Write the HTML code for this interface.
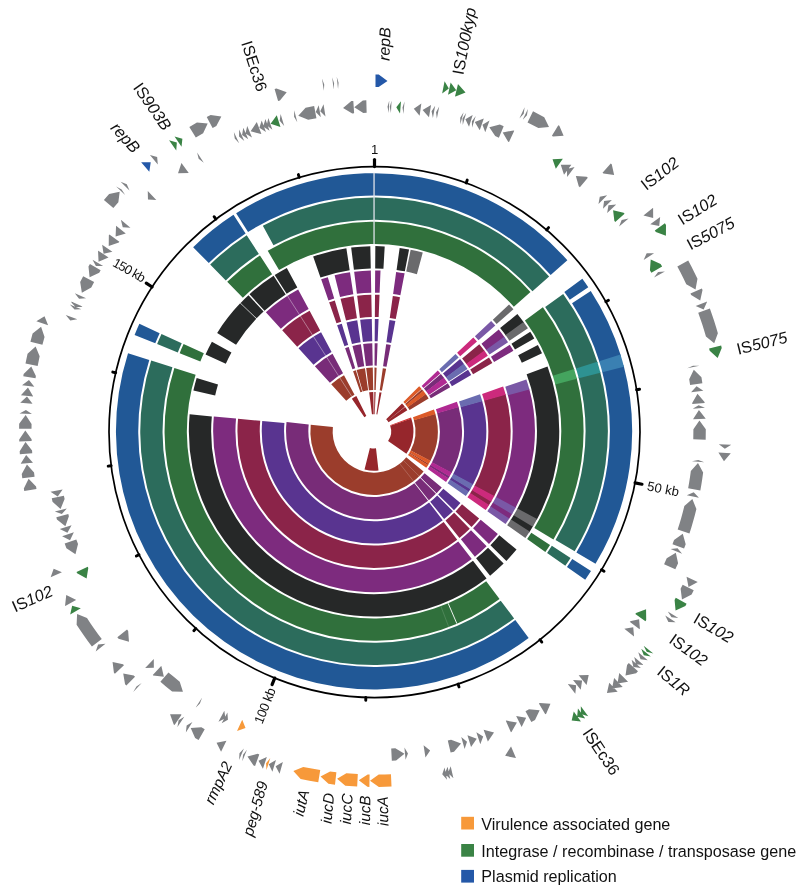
<!DOCTYPE html>
<html lang="en"><head><meta charset="utf-8"><title>Plasmid comparison map</title>
<style>html,body{margin:0;padding:0;background:#fff}svg{display:block}</style></head>
<body>
<svg width="801" height="894" viewBox="0 0 801 894">
<rect width="801" height="894" fill="#fff"/>
<g id="rings">
<path fill="#215896" d="M236.13 213.14A258.1 258.1 0 0 1 567.36 260.28L550.65 275.05A235.8 235.8 0 0 0 248.05 231.99ZM582.33 278.86A258.1 258.1 0 0 1 588.28 287.35L569.77 299.78A235.8 235.8 0 0 0 564.33 292.04ZM590.76 291.11A258.1 258.1 0 0 1 620.87 355.84L599.55 362.36A235.8 235.8 0 0 0 572.03 303.22ZM623.59 365.37A258.1 258.1 0 0 1 595.52 563.84L576.38 552.39A235.8 235.8 0 0 0 602.03 371.07ZM591 571.11A258.1 258.1 0 0 1 585.21 579.71L566.97 566.89A235.8 235.8 0 0 0 572.26 559.03ZM528.66 637.97A258.1 258.1 0 0 1 128.03 353.26L149.29 360A235.8 235.8 0 0 0 515.3 620.11ZM134.58 335.03A258.1 258.1 0 0 1 139.38 323.86L159.65 333.14A235.8 235.8 0 0 0 155.27 343.35ZM193.15 247.21A258.1 258.1 0 0 1 233.48 214.84L245.62 233.54A235.8 235.8 0 0 0 208.78 263.12Z"/>
<path fill="#3a80b2" d="M620.47 354.55A258.1 258.1 0 0 1 623.93 366.68L602.34 372.26A235.8 235.8 0 0 0 599.18 361.18Z"/>
<path fill="#2c6c5c" d="M262.85 225.64A233.8 233.8 0 0 1 549.16 276.38L532.45 291.16A211.5 211.5 0 0 0 273.46 245.25ZM563.2 293.88A233.8 233.8 0 0 1 597.63 362.94L576.31 369.46A211.5 211.5 0 0 0 545.16 306.98ZM600.09 371.58A233.8 233.8 0 0 1 574.67 551.37L555.53 539.91A211.5 211.5 0 0 0 578.53 377.27ZM570.57 557.95A233.8 233.8 0 0 1 565.33 565.74L547.09 552.91A211.5 211.5 0 0 0 551.83 545.87ZM514.1 618.51A233.8 233.8 0 0 1 151.19 360.61L172.45 367.35A211.5 211.5 0 0 0 500.74 600.65ZM157.12 344.1A233.8 233.8 0 0 1 161.47 333.97L181.75 343.26A211.5 211.5 0 0 0 177.81 352.41ZM210.18 264.54A233.8 233.8 0 0 1 246.71 235.22L258.86 253.92A211.5 211.5 0 0 0 225.81 280.45Z"/>
<path fill="#2e9292" d="M597.27 361.77A233.8 233.8 0 0 1 600.4 372.76L578.81 378.34A211.5 211.5 0 0 0 575.98 368.41Z"/>
<path fill="#30703c" d="M267.72 250.79A209.5 209.5 0 0 1 530.47 291.93L513.82 306.77A187.2 187.2 0 0 0 279.04 270ZM542.89 307.27A209.5 209.5 0 0 1 574.4 370.05L553.07 376.57A187.2 187.2 0 0 0 524.92 320.48ZM576.6 377.78A209.5 209.5 0 0 1 553.44 539.51L534.34 528A187.2 187.2 0 0 0 555.04 383.48ZM550.05 544.94A209.5 209.5 0 0 1 545.35 551.91L527.11 539.07A187.2 187.2 0 0 0 531.32 532.85ZM499.55 599.05A209.5 209.5 0 0 1 174.36 367.95L195.61 374.7A187.2 187.2 0 0 0 486.19 581.2ZM179.67 353.16A209.5 209.5 0 0 1 183.57 344.09L203.84 353.37A187.2 187.2 0 0 0 200.36 361.48ZM227.21 281.87A209.5 209.5 0 0 1 259.95 255.6L272.09 274.3A187.2 187.2 0 0 0 242.84 297.78Z"/>
<path fill="#44a45e" d="M574.07 369A209.5 209.5 0 0 1 576.88 378.85L555.29 384.43A187.2 187.2 0 0 0 552.78 375.63Z"/>
<path fill="#262828" d="M375.34 246.1A185.2 185.2 0 0 1 384.71 246.41L383.43 268.67A162.9 162.9 0 0 0 375.19 268.4ZM399.66 247.88A185.2 185.2 0 0 1 409.07 249.44L404.85 271.34A162.9 162.9 0 0 0 396.58 269.97ZM517.37 314A185.2 185.2 0 0 1 524.07 322.7L506.01 335.78A162.9 162.9 0 0 0 500.11 328.12ZM530.25 331.79A185.2 185.2 0 0 1 534.28 338.42L514.98 349.6A162.9 162.9 0 0 0 511.44 343.77ZM537.87 344.93A185.2 185.2 0 0 1 542.03 353.32L521.81 362.71A162.9 162.9 0 0 0 518.15 355.33ZM547.52 366.44A185.2 185.2 0 0 1 536.65 519.95L517.07 509.28A162.9 162.9 0 0 0 526.63 374.25ZM533.29 525.85A185.2 185.2 0 0 1 529.2 532.44L510.51 520.26A162.9 162.9 0 0 0 514.12 514.47ZM516.54 549.6A185.2 185.2 0 0 1 506.37 560.88L490.44 545.28A162.9 162.9 0 0 0 499.39 535.36ZM503.63 563.62A185.2 185.2 0 0 1 490.1 575.63L476.12 558.25A162.9 162.9 0 0 0 488.03 547.69ZM486.54 578.43A185.2 185.2 0 0 1 189.63 414.35L211.83 416.39A162.9 162.9 0 0 0 472.99 560.71ZM193.38 390.58A185.2 185.2 0 0 1 196.66 378.08L218.02 384.49A162.9 162.9 0 0 0 215.14 395.49ZM205.53 354.5A185.2 185.2 0 0 1 211.91 341.8L231.44 352.57A162.9 162.9 0 0 0 225.82 363.75ZM217.16 332.88A185.2 185.2 0 0 1 240.16 303.35L256.28 318.76A162.9 162.9 0 0 0 236.05 344.74ZM240.6 302.88A185.2 185.2 0 0 1 248.45 295.19L263.58 311.58A162.9 162.9 0 0 0 256.67 318.34ZM249.53 294.21A185.2 185.2 0 0 1 273.59 275.71L285.69 294.45A162.9 162.9 0 0 0 264.52 310.72ZM274.68 275.02A185.2 185.2 0 0 1 286.82 267.93L297.32 287.6A162.9 162.9 0 0 0 286.64 293.84ZM313.14 256.4A185.2 185.2 0 0 1 346.36 248.18L349.69 270.23A162.9 162.9 0 0 0 320.48 277.46ZM351.16 247.52A185.2 185.2 0 0 1 370.33 246.14L370.78 268.43A162.9 162.9 0 0 0 353.92 269.65Z"/>
<path fill="#6a6a6c" d="M410.66 249.75A185.2 185.2 0 0 1 422.76 252.62L416.9 274.14A162.9 162.9 0 0 0 406.25 271.61ZM509.05 304.52A185.2 185.2 0 0 1 513.4 309.31L496.62 324A162.9 162.9 0 0 0 492.8 319.79ZM523.5 321.92A185.2 185.2 0 0 1 527.95 328.27L509.42 340.68A162.9 162.9 0 0 0 505.5 335.09ZM537.11 519.1A185.2 185.2 0 0 1 532.8 526.69L513.68 515.2A162.9 162.9 0 0 0 517.48 508.53ZM529.72 531.62A185.2 185.2 0 0 1 525.39 538.06L507.16 525.2A162.9 162.9 0 0 0 510.98 519.54Z"/>
<path fill="#7d2b7e" d="M375.17 270.4A160.9 160.9 0 0 1 380.51 270.53L379.61 292.81A138.6 138.6 0 0 0 375.02 292.7ZM396.16 271.93A160.9 160.9 0 0 1 404.61 273.33L400.38 295.22A138.6 138.6 0 0 0 393.1 294.02ZM498.74 329.61A160.9 160.9 0 0 1 504.71 337.41L486.6 350.42A138.6 138.6 0 0 0 481.46 343.7ZM509.75 344.85A160.9 160.9 0 0 1 513.39 350.85L494.08 362A138.6 138.6 0 0 0 490.94 356.83ZM529.17 388.57A160.9 160.9 0 0 1 515.32 508.32L495.74 497.65A138.6 138.6 0 0 0 507.67 394.49ZM512.4 513.45A160.9 160.9 0 0 1 508.84 519.17L490.16 506.99A138.6 138.6 0 0 0 493.23 502.06ZM497.85 534.08A160.9 160.9 0 0 1 489.01 543.88L473.08 528.27A138.6 138.6 0 0 0 480.69 519.83ZM486.63 546.26A160.9 160.9 0 0 1 474.87 556.7L460.9 539.32A138.6 138.6 0 0 0 471.02 530.33ZM471.78 559.12A160.9 160.9 0 0 1 213.82 416.58L236.03 418.62A138.6 138.6 0 0 0 458.23 541.41ZM265.87 312.2A160.9 160.9 0 0 1 298.14 289.43L308.66 309.09A138.6 138.6 0 0 0 280.86 328.71ZM321.14 279.35A160.9 160.9 0 0 1 327.81 277.19L334.22 298.55A138.6 138.6 0 0 0 328.47 300.41ZM334.58 275.32A160.9 160.9 0 0 1 349.99 272.21L353.32 294.26A138.6 138.6 0 0 0 340.05 296.93ZM354.16 271.63A160.9 160.9 0 0 1 370.82 270.43L371.27 292.73A138.6 138.6 0 0 0 356.92 293.76Z"/>
<path fill="#7a58a6" d="M491.15 320.95A160.9 160.9 0 0 1 495.3 325.53L478.49 340.19A138.6 138.6 0 0 0 474.92 336.25ZM504.22 336.73A160.9 160.9 0 0 1 508.07 342.26L489.49 354.6A138.6 138.6 0 0 0 486.18 349.83ZM526.37 379.45A160.9 160.9 0 0 1 529.39 389.38L507.86 395.19A138.6 138.6 0 0 0 505.26 386.63ZM515.72 507.58A160.9 160.9 0 0 1 511.97 514.17L492.85 502.68A138.6 138.6 0 0 0 496.08 497.01ZM509.3 518.46A160.9 160.9 0 0 1 505.53 524.05L487.31 511.19A138.6 138.6 0 0 0 490.55 506.38Z"/>
<path fill="#8b2449" d="M375 294.7A136.6 136.6 0 0 1 379.53 294.81L378.64 317.09A114.3 114.3 0 0 0 374.85 317ZM392.82 296A136.6 136.6 0 0 1 400 297.19L395.76 319.08A114.3 114.3 0 0 0 389.76 318.08ZM479.3 344.23A136.6 136.6 0 0 1 484.7 351.2L466.64 364.28A114.3 114.3 0 0 0 462.12 358.44ZM489 357.5A136.6 136.6 0 0 1 492.35 363L473.04 374.15A114.3 114.3 0 0 0 470.23 369.55ZM505.49 394.11A136.6 136.6 0 0 1 493.98 496.69L474.4 486.01A114.3 114.3 0 0 0 484.03 400.18ZM491.51 501.04A136.6 136.6 0 0 1 488.74 505.5L470.02 493.38A114.3 114.3 0 0 0 472.33 489.66ZM479.15 518.56A136.6 136.6 0 0 1 471.48 527.04L455.57 511.41A114.3 114.3 0 0 0 461.99 504.31ZM469.79 528.73A136.6 136.6 0 0 1 459.46 537.91L445.52 520.5A114.3 114.3 0 0 0 454.16 512.82ZM457.21 539.67A136.6 136.6 0 0 1 238.02 418.8L260.23 420.84A114.3 114.3 0 0 0 443.63 521.98ZM282.2 330.19A136.6 136.6 0 0 1 309.6 310.86L320.13 330.52A114.3 114.3 0 0 0 297.2 346.69ZM329.13 302.3A136.6 136.6 0 0 1 334.8 300.46L341.2 321.82A114.3 114.3 0 0 0 336.46 323.36ZM340.54 298.87A136.6 136.6 0 0 1 353.62 296.24L356.96 318.29A114.3 114.3 0 0 0 346.01 320.49ZM357.17 295.75A136.6 136.6 0 0 1 371.31 294.73L371.76 317.02A114.3 114.3 0 0 0 359.92 317.88Z"/>
<path fill="#cc2a7c" d="M473.3 337.44A136.6 136.6 0 0 1 476.99 341.5L460.18 356.16A114.3 114.3 0 0 0 457.1 352.77ZM484.28 350.62A136.6 136.6 0 0 1 487.83 355.71L469.25 368.05A114.3 114.3 0 0 0 466.29 363.79ZM503.13 386.6A136.6 136.6 0 0 1 505.68 394.8L484.19 400.75A114.3 114.3 0 0 0 482.06 393.9ZM494.32 496.06A136.6 136.6 0 0 1 491.14 501.65L472.02 490.17A114.3 114.3 0 0 0 474.69 485.49ZM489.13 504.9A136.6 136.6 0 0 1 485.67 510.04L467.45 497.19A114.3 114.3 0 0 0 470.34 492.88Z"/>
<path fill="#593490" d="M374.83 319A112.3 112.3 0 0 1 378.56 319.09L377.66 341.37A90 90 0 0 0 374.68 341.3ZM389.49 320.07A112.3 112.3 0 0 1 395.38 321.04L391.15 342.94A90 90 0 0 0 386.42 342.15ZM460.08 359.11A112.3 112.3 0 0 1 464.09 364.19L446.21 377.51A90 90 0 0 0 442.99 373.45ZM468.02 369.81A112.3 112.3 0 0 1 471.21 374.98L451.91 386.16A90 90 0 0 0 449.36 382.02ZM482.11 400.72A112.3 112.3 0 0 1 472.74 484.88L453.14 474.24A90 90 0 0 0 460.65 406.79ZM470.61 488.63A112.3 112.3 0 0 1 468.55 491.97L449.79 479.92A90 90 0 0 0 451.44 477.25ZM460.45 503.03A112.3 112.3 0 0 1 454.01 510.15L438.13 494.49A90 90 0 0 0 443.3 488.79ZM452.9 511.26A112.3 112.3 0 0 1 444.11 519.06L430.2 501.64A90 90 0 0 0 437.24 495.38ZM442.72 520.15A112.3 112.3 0 0 1 262.22 421.02L284.43 423.06A90 90 0 0 0 429.09 502.51ZM298.54 348.17A112.3 112.3 0 0 1 321.07 332.28L331.59 351.95A90 90 0 0 0 313.54 364.68ZM337.12 325.25A112.3 112.3 0 0 1 341.78 323.74L348.19 345.1A90 90 0 0 0 344.45 346.31ZM346.5 322.43A112.3 112.3 0 0 1 357.26 320.26L360.59 342.31A90 90 0 0 0 351.97 344.05ZM360.17 319.86A112.3 112.3 0 0 1 371.8 319.02L372.24 341.32A90 90 0 0 0 362.93 341.99Z"/>
<path fill="#6a6cb0" d="M455.51 354A112.3 112.3 0 0 1 458.68 357.48L441.87 372.14A90 90 0 0 0 439.33 369.35ZM463.74 363.72A112.3 112.3 0 0 1 467.48 368.99L448.93 381.36A90 90 0 0 0 445.93 377.14ZM480.04 394.18A112.3 112.3 0 0 1 482.27 401.29L460.78 407.25A90 90 0 0 0 458.99 401.55ZM473.02 484.37A112.3 112.3 0 0 1 470.31 489.14L451.2 477.65A90 90 0 0 0 453.37 473.83ZM468.87 491.47A112.3 112.3 0 0 1 465.82 496.03L447.59 483.18A90 90 0 0 0 450.04 479.52Z"/>
<path fill="#782c78" d="M374.66 343.3A88 88 0 0 1 377.58 343.37L376.69 365.65A65.7 65.7 0 0 0 374.51 365.6ZM386.15 344.14A88 88 0 0 1 390.77 344.9L386.53 366.8A65.7 65.7 0 0 0 383.08 366.22ZM440.87 374.03A88 88 0 0 1 444.14 378.1L426.38 391.58A65.7 65.7 0 0 0 423.93 388.54ZM447.77 383.24A88 88 0 0 1 450.18 387.17L430.89 398.35A65.7 65.7 0 0 0 429.09 395.42ZM458.56 406.75A88 88 0 0 1 451.53 473.02L431.9 462.45A65.7 65.7 0 0 0 437.14 412.97ZM449.72 476.23A88 88 0 0 1 448.27 478.58L429.46 466.6A65.7 65.7 0 0 0 430.54 464.84ZM441.76 487.51A88 88 0 0 1 436.6 493.2L420.75 477.51A65.7 65.7 0 0 0 424.6 473.27ZM435.95 493.85A88 88 0 0 1 428.83 500.17L414.95 482.72A65.7 65.7 0 0 0 420.26 478ZM428.11 500.74A88 88 0 0 1 286.53 422.1L308.71 424.43A65.7 65.7 0 0 0 414.41 483.14ZM314.88 366.16A88 88 0 0 1 332.53 353.71L343.05 373.37A65.7 65.7 0 0 0 329.88 382.67ZM345.11 348.19A88 88 0 0 1 348.76 347.01L355.17 368.37A65.7 65.7 0 0 0 352.44 369.25ZM352.46 345.99A88 88 0 0 1 360.89 344.29L364.23 366.34A65.7 65.7 0 0 0 357.93 367.61ZM363.17 343.97A88 88 0 0 1 372.28 343.32L372.73 365.61A65.7 65.7 0 0 0 365.93 366.1Z"/>
<path fill="#b02a92" d="M437.78 370.61A88 88 0 0 1 440.36 373.45L423.56 388.11A65.7 65.7 0 0 0 421.63 385.99ZM443.87 377.73A88 88 0 0 1 447.35 382.6L428.77 394.94A65.7 65.7 0 0 0 426.17 391.3ZM456.9 401.64A88 88 0 0 1 458.68 407.19L437.24 413.3A65.7 65.7 0 0 0 435.9 409.15ZM451.75 472.61A88 88 0 0 1 449.48 476.62L430.37 465.14A65.7 65.7 0 0 0 432.06 462.14ZM448.51 478.19A88 88 0 0 1 446.05 481.9L427.8 469.08A65.7 65.7 0 0 0 429.64 466.31Z"/>
<path fill="#9b3d2c" d="M374.49 367.6A63.7 63.7 0 0 1 376.61 367.65L375.71 389.93A41.4 41.4 0 0 0 374.34 389.9ZM382.81 368.2A63.7 63.7 0 0 1 386.15 368.76L381.91 390.65A41.4 41.4 0 0 0 379.74 390.29ZM421.91 389.26A63.7 63.7 0 0 1 423.41 391.04L406.13 405.13A41.4 41.4 0 0 0 405.15 403.98ZM425.71 394.04A63.7 63.7 0 0 1 428.65 398.49L409.54 409.98A41.4 41.4 0 0 0 407.63 407.08ZM435.31 413.85A63.7 63.7 0 0 1 430.4 461.01L410.67 450.61A41.4 41.4 0 0 0 413.87 419.96ZM428.82 463.82A63.7 63.7 0 0 1 427.95 465.24L409.08 453.36A41.4 41.4 0 0 0 409.65 452.44ZM423.55 471.39A63.7 63.7 0 0 1 419.13 476.3L403.35 460.55A41.4 41.4 0 0 0 406.22 457.35ZM419.13 476.3A63.7 63.7 0 0 1 413.44 481.36L399.65 463.83A41.4 41.4 0 0 0 403.35 460.55ZM413.44 481.36A63.7 63.7 0 0 1 310.7 424.64L332.88 426.97A41.4 41.4 0 0 0 399.65 463.83ZM331.22 384.15A63.7 63.7 0 0 1 344 375.13L354.52 394.8A41.4 41.4 0 0 0 346.21 400.65ZM366.18 368.09A63.7 63.7 0 0 1 372.77 367.61L373.22 389.91A41.4 41.4 0 0 0 368.93 390.22ZM353.1 371.14A63.7 63.7 0 0 1 355.85 370.25L362.22 391.63A41.4 41.4 0 0 0 360.43 392.2ZM356.6 370.04A63.7 63.7 0 0 1 364.96 368.25L368.15 390.32A41.4 41.4 0 0 0 362.71 391.48Z"/>
<path fill="#dc5a28" d="M419.17 386.34A63.7 63.7 0 0 1 421.61 388.92L404.96 403.76A41.4 41.4 0 0 0 403.38 402.08ZM423.2 390.78A63.7 63.7 0 0 1 425.91 394.31L407.75 407.26A41.4 41.4 0 0 0 406 404.97ZM433.95 409.62A63.7 63.7 0 0 1 435.4 414.17L413.92 420.17A41.4 41.4 0 0 0 412.98 417.21ZM430.55 460.71A63.7 63.7 0 0 1 428.65 464.11L409.54 452.62A41.4 41.4 0 0 0 410.77 450.42ZM428.13 464.96A63.7 63.7 0 0 1 426.23 467.84L407.96 455.05A41.4 41.4 0 0 0 409.2 453.18Z"/>
<path fill="#96262c" d="M369.18 392.2A39.4 39.4 0 0 1 373.26 391.91L373.71 414.2A17.1 17.1 0 0 0 371.94 414.33ZM374.33 391.9A39.4 39.4 0 0 1 375.63 391.93L374.74 414.21A17.1 17.1 0 0 0 374.17 414.2ZM379.47 392.27A39.4 39.4 0 0 1 381.53 392.62L377.3 414.51A17.1 17.1 0 0 0 376.4 414.36ZM402.01 403.54A39.4 39.4 0 0 1 404.84 406.72L387.41 420.63A17.1 17.1 0 0 0 386.18 419.25ZM405.1 407.04A39.4 39.4 0 0 1 407.32 410.19L388.49 422.14A17.1 17.1 0 0 0 387.52 420.77ZM411.3 418.47A39.4 39.4 0 0 1 406.4 453.79L388.09 441.06A17.1 17.1 0 0 0 390.22 425.73ZM378.51 470.45A39.4 39.4 0 0 1 364.52 469.53L369.91 447.89A17.1 17.1 0 0 0 375.99 448.29ZM351.85 398.75A39.4 39.4 0 0 1 356.35 396.1L366.37 416.02A17.1 17.1 0 0 0 364.41 417.17Z"/>
<path fill="#d23030" d="M410.98 417.57A39.4 39.4 0 0 1 411.37 418.67L390.25 425.82A17.1 17.1 0 0 0 390.08 425.34Z"/>
</g>
<g id="lines">
<line x1="374.05" y1="172.7" x2="374.05" y2="244" stroke="#dfe3ea" stroke-width="1.3"/>
<line x1="456.92" y1="623.71" x2="448.1" y2="603.23" stroke="#ffffff" stroke-width="0.9"/>
<line x1="448.79" y1="627.02" x2="440.83" y2="606.18" stroke="#6a9a72" stroke-width="0.5"/>
<line x1="287.36" y1="295.75" x2="351.74" y2="396.42" stroke="#e9dfe9" stroke-width="0.45"/>
<line x1="419.25" y1="476.19" x2="403.43" y2="460.47" stroke="#c99a90" stroke-width="0.4"/>
<line x1="413.62" y1="481.22" x2="399.77" y2="463.74" stroke="#c99a90" stroke-width="0.4"/>
</g>
<circle cx="374.5" cy="432.05" r="265.5" fill="none" stroke="#000" stroke-width="1.7"/>
<g stroke="#000" stroke-linecap="round">
<line x1="374.5" y1="166.55" x2="374.5" y2="159.55" stroke-width="3.2"/>
<line x1="466.21" y1="182.89" x2="467.25" y2="180.08" stroke-width="2.9"/>
<line x1="546.63" y1="229.91" x2="548.58" y2="227.62" stroke-width="2.9"/>
<line x1="605.86" y1="301.81" x2="608.47" y2="300.34" stroke-width="2.9"/>
<line x1="636.61" y1="389.74" x2="639.57" y2="389.26" stroke-width="2.9"/>
<line x1="635.09" y1="482.88" x2="641.96" y2="484.22" stroke-width="3.2"/>
<line x1="601.49" y1="569.77" x2="604.05" y2="571.33" stroke-width="2.9"/>
<line x1="539.95" y1="639.7" x2="541.81" y2="642.05" stroke-width="2.9"/>
<line x1="458.03" y1="684.07" x2="458.98" y2="686.91" stroke-width="2.9"/>
<line x1="365.84" y1="697.41" x2="365.74" y2="700.41" stroke-width="2.9"/>
<line x1="274.71" y1="678.08" x2="272.08" y2="684.57" stroke-width="3.2"/>
<line x1="195.87" y1="628.47" x2="193.85" y2="630.69" stroke-width="2.9"/>
<line x1="139.02" y1="554.68" x2="136.35" y2="556.06" stroke-width="2.9"/>
<line x1="111.15" y1="465.79" x2="108.18" y2="466.17" stroke-width="2.9"/>
<line x1="115.71" y1="372.74" x2="112.78" y2="372.07" stroke-width="2.9"/>
<line x1="152.12" y1="287" x2="146.26" y2="283.18" stroke-width="3.2"/>
<line x1="215.92" y1="219.11" x2="214.12" y2="216.71" stroke-width="2.9"/>
<line x1="299.23" y1="177.44" x2="298.38" y2="174.57" stroke-width="2.9"/>
</g>
<g id="genes">
<path fill="#808285" d="M189.33 126.95L196.92 122.43L207.7 123.49L203.13 133.17L195.81 137.53ZM206.73 116.96L210.62 114.9L221.34 116.43L216.35 125.9L212.6 127.88ZM181.48 163.05L181.44 163.08L178.02 173.36L188.71 173.12L188.75 173.09ZM197.11 152.4L198.67 158.77L203.8 162.84ZM233.85 132.05L234.75 138.49L239.15 143.26ZM239.16 129.59L239.04 136.47L244.27 140.89ZM243.29 127.76L242.08 135.08L248.25 139.13ZM247.2 126.09L245.5 133.56L252.01 137.52ZM256.88 122.19L256.59 122.31L250.64 131.37L261.04 133.88L261.32 133.77ZM261.7 120.39L259.4 127.87L265.96 132.03ZM265.42 119.05L263.23 126.43L269.54 130.74ZM268.34 118.04L266.74 125.16L272.35 129.77ZM280.63 114.1L279.69 120.86L284.18 125.98ZM294.24 110.34L294.08 116.79L297.29 122.36ZM314.15 105.96L305.57 107.69L298.3 115.72L308.18 119.81L316.45 118.14ZM318.71 105.13L315.75 111.96L320.83 117.35ZM323.55 104.33L320.25 111.16L325.49 116.57ZM274.58 89.09L276.51 88.52L286.71 92.15L279.94 100.44L278.08 100.98ZM321.97 78.56L324.22 84.5L323.83 90.83ZM332.15 77.17L334.1 83.18L333.65 89.48ZM336.7 76.65L338.57 82.68L338.04 88.98ZM353.32 100.98L351.37 101.12L343.06 108.06L352.27 113.48L354.14 113.35ZM366.32 100.37L362.81 100.49L354.26 107.13L363.28 112.88L366.66 112.77ZM389.27 100.55L387.51 106.68L388.75 112.93ZM391.56 100.65L389.76 106.77L390.95 113.04ZM404.55 101.55L402.51 107.59L403.45 113.9ZM421.35 103.47L413.81 108.74L419.62 115.75ZM431.07 104.99L422.59 109.92L428.98 117.21ZM435.16 105.72L431.57 111.37L432.91 117.91ZM439.23 106.49L436.06 112.19L436.84 118.66ZM463.62 112.27L460.2 117.76L460.3 124.22ZM466.18 112.99L462.49 118.39L462.77 124.91ZM472.68 114.92L465.37 119.21L469.03 126.77ZM475.77 115.89L471.91 121.18L472 127.7ZM483.82 118.57L474.79 122.09L479.75 130.29ZM489.53 120.62L482.47 124.67L485.25 132.26ZM503.69 126.21L499.85 124.62L489.32 127.15L495.18 136.1L498.87 137.63ZM514.24 130.87L513.34 130.46L502.7 132.52L508.16 141.72L509.03 142.12ZM524.61 107.35L523.73 113.78L519.41 118.61ZM527.9 108.89L526.96 115.31L522.58 120.1ZM533.03 111.37L538.66 114.22L544.24 117.16L548.99 126.89L538.36 128.08L532.97 125.24L527.53 122.49ZM558.3 125.15L559.33 125.77L563.61 135.72L552.93 136.39L551.93 135.79ZM610.73 163.45L611.74 164.34L614.13 174.9L603.51 173.61L602.53 172.75ZM653.1 207.81L653.17 217.94L643.43 215.57ZM660.15 216.88L659.21 226.07L650.23 224.33ZM654.09 253.26L646.69 253.22L643.63 259.92ZM571.36 164.69L560.75 164.71L564.01 174.67ZM574.62 167.12L566.92 169.11L567.14 177.01ZM587.85 177.66L586.67 176.67L575.86 175.91L578.74 186.21L579.88 187.16ZM607.18 195.25L599.78 196.7L598.48 204.09ZM611.88 199.97L604.09 200.91L603 208.63ZM616.22 204.5L608.43 205.32L607.18 212.99ZM628.59 218.44L621.68 219.88L619.09 226.41ZM688.21 260.55L691.42 266.59L694.51 272.68L697.48 278.84L695.53 289.49L686.27 284.13L683.4 278.19L680.41 272.3L677.32 266.48ZM701.83 288.43L702.53 290.04L700.21 300.62L691.14 294.94L690.46 293.38ZM707.21 301.47L703.64 309.54L695.66 305.97ZM709.88 308.54L712.04 314.63L714.09 320.77L716.04 326.94L717.87 333.14L714.21 343.33L705.94 336.54L704.17 330.55L702.3 324.59L700.32 318.67L698.23 312.79ZM664.92 271.52L658.07 271.96L654.05 277.5ZM699.37 365.87L693 365.65L687.21 368.31ZM702.38 383.32L701.45 377.3L693.79 369.64L689.21 379.3L690.11 385.1ZM703.37 390.72L696.53 386.21L691.06 392.22ZM704.63 402.98L704.55 402.02L697.49 393.81L692.2 403.1L692.28 404.02ZM705 407.83L698.6 405.26L692.63 408.69ZM705.58 418.78L705.58 418.6L698.94 410.04L693.18 419.05L693.19 419.23ZM705.68 439.67L705.8 429.29L699.44 420.52L693.4 429.34L693.28 439.33ZM704.29 462.35L698.28 460.03L691.94 461.17ZM700.34 490.57L701.38 484.59L702.32 478.59L703.14 472.58L697.99 463.05L690.84 471.01L690.05 476.8L689.15 482.57L688.15 488.33ZM698.94 497.73L693.72 492.24L686.8 495.22ZM689.44 533.44L691.36 527.39L693.15 521.3L694.83 515.18L696.4 509.03L692.34 498.98L684.35 506.09L682.84 512.01L681.23 517.91L679.5 523.76L677.65 529.59ZM731.23 444.73L724.84 448.74L718.83 444.25ZM730.78 453.37L723.97 461.2L718.41 452.58ZM684.07 548.62L685.69 544.28L682.78 533.84L674.04 540.02L672.48 544.2ZM682.08 553.69L677.56 548.27L670.57 549.07ZM675.33 569.35L678.09 563.23L675.83 552.63L666.73 558.26L664.08 564.15ZM697.75 582.08L688.54 586.89L686.53 576.82ZM693.73 590.37L691.62 594.52L681.97 599.43L680.61 588.82L682.65 584.82ZM678.33 617.97L671.51 617.19L667.78 611.45ZM675.71 622.14L668.39 622.05L665.26 615.48ZM639.9 628.79L639.11 619.36L629.97 621.36ZM639.58 629.22L637.44 621.68L629.66 621.77ZM634.04 636.38L633.25 627.31L624.33 628.67ZM647.75 660.21L640.5 659.15L638.26 652.22ZM643.58 665.06L636.05 664.22L634.24 656.91ZM640.89 668.12L633.43 667.12L631.64 659.85ZM637.97 671.34L636.11 673.35L625.5 675.5L627.03 664.91L628.82 662.97ZM628.04 681.75L617.51 683.4L619.24 673.02ZM622.71 687L612.05 688.53L614.1 678.08ZM617.67 691.77L606.95 693.12L609.24 682.69ZM586.57 684.9L588.7 674.94L578.65 675.37ZM580.73 689.65L582.12 680.55L573.02 679.93ZM575.32 693.85L576.17 685.35L567.81 683.98ZM545.27 714.2L546.19 713.64L550.46 703.68L539.78 703.03L538.89 703.56ZM531.34 722.09L535.01 720.1L539.66 710.32L529.02 709.24L525.49 711.16ZM521.64 727.09L526.16 717.83L516.15 715.97ZM510.9 732.15L511.48 731.89L516.9 722.51L506.37 720.59L505.82 720.84ZM487.83 741.5L487.9 741.48L494.02 732.54L483.67 729.82L483.61 729.84ZM480.3 744.13L483.19 736.58L476.36 732.37ZM471.04 747.08L476.76 738.77L467.45 735.21ZM464.6 748.96L467.02 741.81L461.25 737.02ZM450.61 752.56L454.01 751.74L461.05 743.51L451.05 739.7L447.78 740.48ZM425.45 757.42L430.15 750.38L423.57 745.17ZM515.97 758L515.69 758.12L505.11 755.79L510.8 746.72L511.07 746.6ZM453.41 778.28L448.02 773.11L450.69 766.18ZM450.25 778.98L444.66 773.81L447.64 766.85ZM447.07 779.64L442.25 774.29L444.57 767.5ZM279.58 773.85L275.64 766.26L282.91 761.9ZM272.41 771.77L268.78 764.15L275.99 759.9ZM262.92 768.76L258.51 760.69L266.83 756.99ZM255.08 766.05L253.58 765.51L247.47 756.57L257.82 753.86L259.27 754.38ZM242.31 761.19L243.07 754.81L246.94 749.69ZM239.15 759.9L239.45 753.31L243.89 748.44ZM391.83 760.84L396.09 760.6L404.48 753.73L395.31 748.22L391.21 748.45ZM405.56 759.86L407.96 753.4L404.43 747.51ZM117.35 637.37L118.53 638.84L128.98 641.69L128.17 631.03L127.03 629.62ZM145.17 667.96L153.85 667.66L153.8 659.06ZM152.79 675.12L153.11 675.41L163.87 676.65L161.44 666.23L161.14 665.96ZM160.37 681.82L166.19 686.68L172.11 691.41L182.94 691.84L179.73 681.63L174.03 677.08L168.44 672.4ZM195.37 707.98L199.91 703.53L202.12 697.58ZM218.43 721.65L225.38 718.32L224.32 710.74ZM221.66 723.37L227.94 719.64L227.42 712.39ZM91.92 646.56L87.94 641.23L84.06 635.83L80.28 630.35L76.6 624.81L77.1 613.99L87 618.06L90.55 623.41L94.2 628.69L97.94 633.9L101.78 639.05ZM95.72 651.47L98.1 644.43L105.46 643.78ZM114.9 673.79L113.92 672.74L112.57 662L123.02 664.32L123.96 665.33ZM126.35 685.51L125.05 684.23L123.22 673.56L133.76 675.41L135.02 676.64ZM133.26 692.08L136.44 686.57L141.68 682.98ZM174.58 725.01L173.73 724.43L170.05 714.25L180.75 714.21L181.57 714.77ZM177.45 726.95L178.59 720.24L184.33 716.64ZM185.86 732.4L186.65 725.55L192.46 721.9ZM198.59 740.03L195.1 738.01L190.71 728.11L201.38 727.31L204.74 729.26ZM221.07 751.83L216.54 742.67L226.44 740.65ZM19.87 454.15L19.68 451.13L25.48 441.98L32.06 450.42L32.24 453.34ZM20.64 463.84L26.14 455.01L32.99 462.69ZM22.29 478.34L21.74 474.06L26.94 464.55L34.05 472.55L34.58 476.68ZM24.25 491.07L23.83 488.58L28.62 478.87L36.06 486.57L36.47 488.97ZM50.47 491.73L57.73 496.46L62.66 489.44ZM51.78 498.3L52.5 501.68L60.56 508.92L64.61 499.02L63.91 495.77ZM54.8 511.43L61.85 513.92L66.82 508.41ZM56.33 517.29L56.94 519.51L65.39 526.28L68.88 516.18L68.3 514.04ZM59.73 528.95L67.44 532.69L71.57 525.27ZM62.09 536.24L70.02 540.17L73.84 532.28ZM64.67 543.62L66.42 548.34L75.46 554.31L78.01 543.92L76.32 539.38ZM50.64 577.28L53.67 568.78L61.94 572.18ZM65.25 606.11L65.06 605.77L66.24 595.01L75.86 599.68L76.05 600ZM36.32 321.33L44.53 316.34L48.12 325.14ZM30.42 341.68L32.61 333.58L41.08 326.84L44.54 336.96L42.42 344.78ZM25.49 363.6L27.55 353.63L35.62 346.4L39.66 356.31L37.67 365.93ZM23.29 376.29L23.64 374.08L31.27 366.39L35.88 376.05L35.54 378.18ZM22.02 385.2L28.99 380.04L34.32 386.78ZM20.88 395.14L27.97 387.62L33.22 396.38ZM20.2 402.77L26.97 396.57L32.56 403.75ZM19.52 413.46L25.91 410.05L31.91 414.06ZM19.11 428.71L19.17 423.7L25.65 415.03L31.57 423.95L31.51 428.79ZM19.26 441.43L19.21 439.45L25.3 430.5L31.6 439.15L31.65 441.06ZM74.82 293.13L79.07 298.78L86.09 298.29ZM71.11 301.53L75.78 306.43L82.52 306.38ZM69.85 304.54L74.55 309.42L81.31 309.28ZM65.75 314.94L70.28 320.6L77.37 319.29ZM149.95 154.9L157.15 157.06L157.79 164.5ZM120.63 181.71L126.78 184.29L129.5 190.38ZM116.14 186.39L121.62 189.61L125.16 194.89ZM103.9 200.05L109.1 194.07L119.67 191.69L118.37 202.31L113.35 208.08ZM147.77 191.04L147.97 199.47L156.31 200.04ZM120.88 219.79L122.75 227.3L130.43 227.71ZM116.07 225.74L115.6 236.52L125.79 233.43ZM109.4 234.47L108.84 235.23L108.73 246.06L118.84 242.56L119.37 241.84ZM102.15 244.69L103.58 253.73L112.39 251.67ZM98.2 250.63L98.04 250.87L98.55 261.69L108.44 257.61L108.59 257.39ZM92.52 259.68L95.93 266.06L103.13 266.1ZM89.93 264.04L88.48 266.54L89.59 277.32L99.24 272.7L100.64 270.29ZM83.17 276.19L80.18 281.97L81.86 292.67L91.25 287.55L94.13 281.99ZM74.82 293.13L79.3 298.25L86.09 298.29ZM70.89 302.05L75.56 306.94L82.31 306.88Z"/>
<path fill="#3a8345" d="M169.07 140.32L176.84 142.45L176.25 150.43ZM174.55 136.51L182.39 138.71L181.54 146.75ZM276.77 115.28L270.61 123.81L280.47 127.11ZM444.57 81.35L448.84 88.56L442.16 93.51ZM450.63 82.61L456.25 90.24L448.01 94.73ZM457.93 84.27L458.45 84.39L465.53 92.58L455.55 96.45L455.05 96.33ZM400.99 101.25L396.29 107.13L400.02 113.61ZM664.89 223.35L665.99 224.89L665.92 235.72L655.87 232.06L654.81 230.57ZM562.86 158.63L552.54 159.17L555.82 168.84ZM624.57 213.74L623.65 212.68L613.09 210.24L614.33 220.86L615.22 221.88ZM721.14 345.48L721.74 347.94L717.65 357.97L709.68 350.83L709.1 348.45ZM662.13 266.56L660.62 263.95L650.73 259.55L649.92 270.21L651.37 272.72ZM686.6 603.87L685.39 606.03L675.56 610.59L674.59 599.93L675.77 597.84ZM645.44 621.16L646.2 620.08L646.06 609.25L636.03 612.98L635.3 614.01ZM653.33 653.42L646.74 651.7L643.65 645.66ZM650.83 656.5L643.79 655.28L641.24 648.64ZM580.92 721.61L571.67 720.47L573.76 711.48ZM585.26 718.49L577.11 716.71L577.95 708.48ZM588.22 716.31L581.01 713.92L580.8 706.37ZM76.54 572.07L77.1 573.25L86.59 578.46L88.29 567.9L87.75 566.77ZM70.18 614.55L72.16 605.7L80.81 608.15Z"/>
<path fill="#2458a8" d="M375.5 74.55L378.76 74.57L387.49 80.96L378.63 86.97L375.5 86.95ZM141.16 162.31L150.74 162.29L149.31 171.66Z"/>
<path fill="#f7993a" d="M391.52 786.58L385.19 786.81L378.86 786.93L370 780.71L378.73 774.53L384.84 774.42L390.95 774.19ZM369.4 786.9L367.41 786.86L358.76 780.36L367.69 774.47L369.6 774.5ZM357.18 786.49L345.33 785.69L337.09 778.66L346.37 773.33L357.81 774.1ZM334.99 784.66L328.44 783.85L320.55 776.44L330.07 771.56L336.39 772.34ZM318.26 782.35L309.43 780.81L300.65 779.04L293.36 771.02L303.24 766.91L311.72 768.62L320.25 770.11ZM266.51 769.93L266.08 763.27L270.3 758.12ZM237.02 730.93L245.52 727.95L242.21 719.67Z"/>
</g>
<g id="labels" font-family="'Liberation Sans', Arial, Helvetica, sans-serif" fill="#111">
<text transform="translate(371.1 153.8) rotate(0)" font-size="13.1">1</text>
<text transform="translate(646.6 490.3) rotate(11)" font-size="13.1">50 kb</text>
<text transform="translate(262.2 724.7) rotate(-68.2)" font-size="13.1" textLength="37.3" lengthAdjust="spacing">100 kb</text>
<text transform="translate(111.7 265.4) rotate(29.5)" font-size="13.1" textLength="35.3" lengthAdjust="spacing">150 kb</text>
<text transform="translate(389.4 61) rotate(-88)" font-size="15.9"><tspan font-style="italic">repB</tspan></text>
<text transform="translate(463.3 75.4) rotate(-79)" font-size="16.3">IS<tspan font-style="italic">100kyp</tspan></text>
<text transform="translate(646.3 191) rotate(-37.5)" font-size="16.3">IS<tspan font-style="italic">102</tspan></text>
<text transform="translate(682.3 225.4) rotate(-31.8)" font-size="16.3">IS<tspan font-style="italic">102</tspan></text>
<text transform="translate(690.4 250.6) rotate(-27.7)" font-size="16.3">IS<tspan font-style="italic">5075</tspan></text>
<text transform="translate(738.2 354.8) rotate(-13.9)" font-size="16.3">IS<tspan font-style="italic">5075</tspan></text>
<text transform="translate(692.3 622) rotate(30.4)" font-size="16.3">IS<tspan font-style="italic">102</tspan></text>
<text transform="translate(667.9 641.9) rotate(35.7)" font-size="16.3">IS<tspan font-style="italic">102</tspan></text>
<text transform="translate(656.1 673.6) rotate(39.6)" font-size="16.3">IS<tspan font-style="italic">1R</tspan></text>
<text transform="translate(582 733) rotate(56)" font-size="16.3">ISEc36</text>
<text transform="translate(388.4 826) rotate(-91)" font-size="15.3"><tspan font-style="italic">iucA</tspan></text>
<text transform="translate(370 825.2) rotate(-89)" font-size="15.3"><tspan font-style="italic">iucB</tspan></text>
<text transform="translate(350.7 824.6) rotate(-86)" font-size="15.3"><tspan font-style="italic">iucC</tspan></text>
<text transform="translate(331.5 824) rotate(-84.8)" font-size="15.3"><tspan font-style="italic">iucD</tspan></text>
<text transform="translate(303.2 817) rotate(-76)" font-size="15.3"><tspan font-style="italic">iutA</tspan></text>
<text transform="translate(252.6 837) rotate(-74.1)" font-size="15.3"><tspan font-style="italic">peg-589</tspan></text>
<text transform="translate(213.4 805.4) rotate(-64.6)" font-size="15.3"><tspan font-style="italic">rmpA2</tspan></text>
<text transform="translate(15 612.5) rotate(-23.9)" font-size="16.3">IS<tspan font-style="italic">102</tspan></text>
<text transform="translate(109.8 128.4) rotate(48.5)" font-size="16.3"><tspan font-style="italic">repB</tspan></text>
<text transform="translate(132.6 87.7) rotate(55.3)" font-size="16.3">IS<tspan font-style="italic">903B</tspan></text>
<text transform="translate(241.1 43.1) rotate(72)" font-size="16.1">ISEc36</text>
</g>
<g id="legend" font-family="'Liberation Sans', Arial, Helvetica, sans-serif" font-size="16.15" fill="#111">
<rect x="461.2" y="816.8" width="12.8" height="12.7" fill="#f7993a"/>
<text x="481.3" y="830">Virulence associated gene</text>
<rect x="461.2" y="844" width="12.8" height="12.7" fill="#3a8345"/>
<text x="481.3" y="857.1">Integrase / recombinase / transposase gene</text>
<rect x="461.2" y="869.9" width="12.8" height="12.7" fill="#2458a8"/>
<text x="481.3" y="882.2">Plasmid replication</text>
</g>
</svg>
</body></html>
